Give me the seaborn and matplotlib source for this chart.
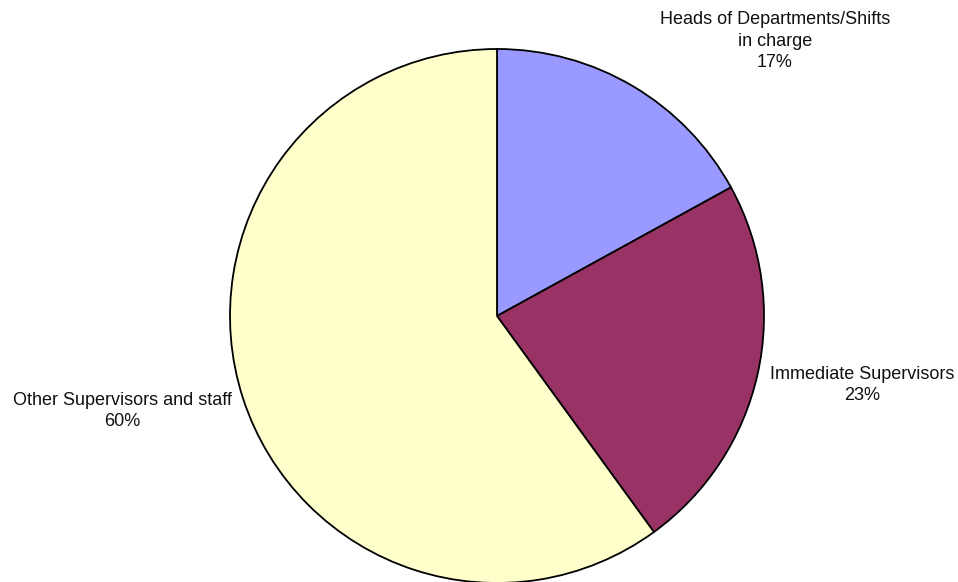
import matplotlib
matplotlib.use("Agg")
import matplotlib.pyplot as plt
import seaborn as sns

categories = ["Heads of Departments/Shifts\nin charge", "Immediate Supervisors", "Other Supervisors and staff"]
shares = [17, 23, 60]
colors = ["#9999FF", "#993366", "#FFFFCC"]

sns.set_theme(style="white")
plt.rcParams["font.family"] = ["Liberation Sans", "DejaVu Sans"]

W, H = 958, 582
fig = plt.figure(figsize=(W / 100, H / 100), dpi=100)
ax = fig.add_axes([0, 0, 1, 1])
ax.set_xlim(0, W)
ax.set_ylim(0, H)
ax.axis("off")

ax.pie(shares, colors=colors, startangle=90, counterclock=False,
       center=(497, H - 316), radius=267,
       wedgeprops=dict(edgecolor="black", linewidth=1.3))
ax.set_xlim(0, W)
ax.set_ylim(0, H)
ax.set_aspect("auto")

# Category name and percentage beside each slice
label_pos = [(775, H - 41), (862, H - 385), (122, H - 411)]
for name, val, (x, y) in zip(categories, shares, label_pos):
    ax.text(x, y, f"{name}\n{val}%", ha="center", va="center",
            fontsize=13, color="#111111", linespacing=1.32)

fig.savefig("out.png", dpi=100)
